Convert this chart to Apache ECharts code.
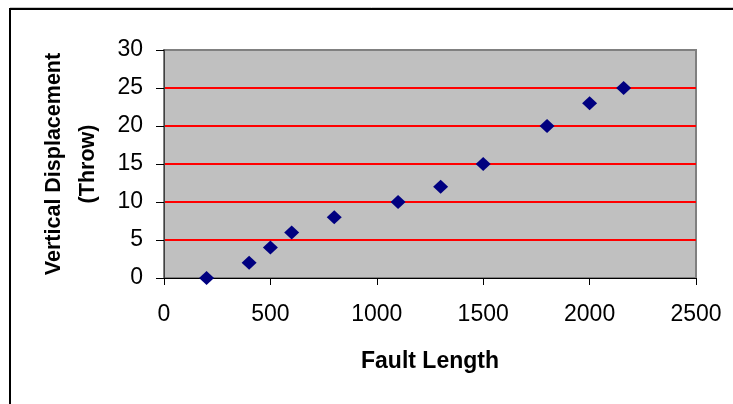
<!DOCTYPE html>
<html>
<head>
<meta charset="utf-8">
<script src="https://cdn.jsdelivr.net/npm/echarts@6/dist/echarts.min.js"></script>
<style>
  html, body { margin: 0; padding: 0; background: #fff; }
  #chart { width: 733px; height: 404px; }
</style>
</head>
<body>
<div id="chart"></div>
<script>
// Fault length vs. vertical displacement (throw) measurements
const faultLength = [200, 400, 500, 600, 800, 1100, 1300, 1500, 1800, 2000, 2160];
const throwValues = [0, 2, 4, 6, 8, 10, 12, 15, 20, 23, 25];
const xTitle = 'Fault Length';
const yTitle = 'Vertical Displacement\n(Throw)';

const points = faultLength.map((x, i) => [x, throwValues[i]]);

const chart = echarts.init(document.getElementById('chart'));
const font = '"Liberation Sans", Arial, sans-serif';

chart.setOption({
  animation: false,
  backgroundColor: '#ffffff',
  graphic: [
    { type: 'line', shape: { x1: 10, y1: 7.5, x2: 733, y2: 7.5 }, style: { stroke: '#c8c8c8', lineWidth: 1 } },
    { type: 'rect', shape: { x: 10, y: 9, width: 800, height: 500 }, style: { fill: null, stroke: '#000', lineWidth: 2 } }
  ],
  grid: {
    left: 164, top: 50, width: 532, height: 228,
    show: true, backgroundColor: '#c0c0c0', borderColor: '#808080', borderWidth: 2
  },
  xAxis: {
    type: 'value', min: 0, max: 2500, interval: 500,
    name: xTitle, nameLocation: 'middle', nameGap: 72,
    nameTextStyle: { fontFamily: font, fontSize: 23, fontWeight: 'bold', color: '#000' },
    axisLine: { show: true, onZero: false, lineStyle: { color: '#000', width: 1 } },
    axisTick: { show: true, length: 7, lineStyle: { color: '#000' } },
    axisLabel: { fontFamily: font, fontSize: 23, color: '#000', margin: 25, formatter: v => String(v) },
    splitLine: { show: false }
  },
  yAxis: {
    type: 'value', min: 0, max: 30, interval: 5,
    name: yTitle, nameLocation: 'middle', nameGap: 59, nameRotate: 90,
    nameTextStyle: { fontFamily: font, fontSize: 21.5, fontWeight: 'bold', color: '#000', lineHeight: 34, align: 'center' },
    axisLine: { show: true, onZero: false, lineStyle: { color: '#404040', width: 1 } },
    axisTick: { show: true, length: 8, lineStyle: { color: '#000' } },
    axisLabel: { fontFamily: font, fontSize: 23, color: '#000', margin: 21, formatter: v => String(v) },
    splitLine: {
      show: true,
      lineStyle: { color: ['transparent', '#ff0000', '#ff0000', '#ff0000', '#ff0000', '#ff0000', 'transparent'], width: 2 }
    }
  },
  series: [{
    type: 'scatter',
    data: points,
    symbol: 'diamond',
    symbolSize: [15, 14],
    itemStyle: { color: '#000080', opacity: 1 }
  }]
});
</script>
</body>
</html>
